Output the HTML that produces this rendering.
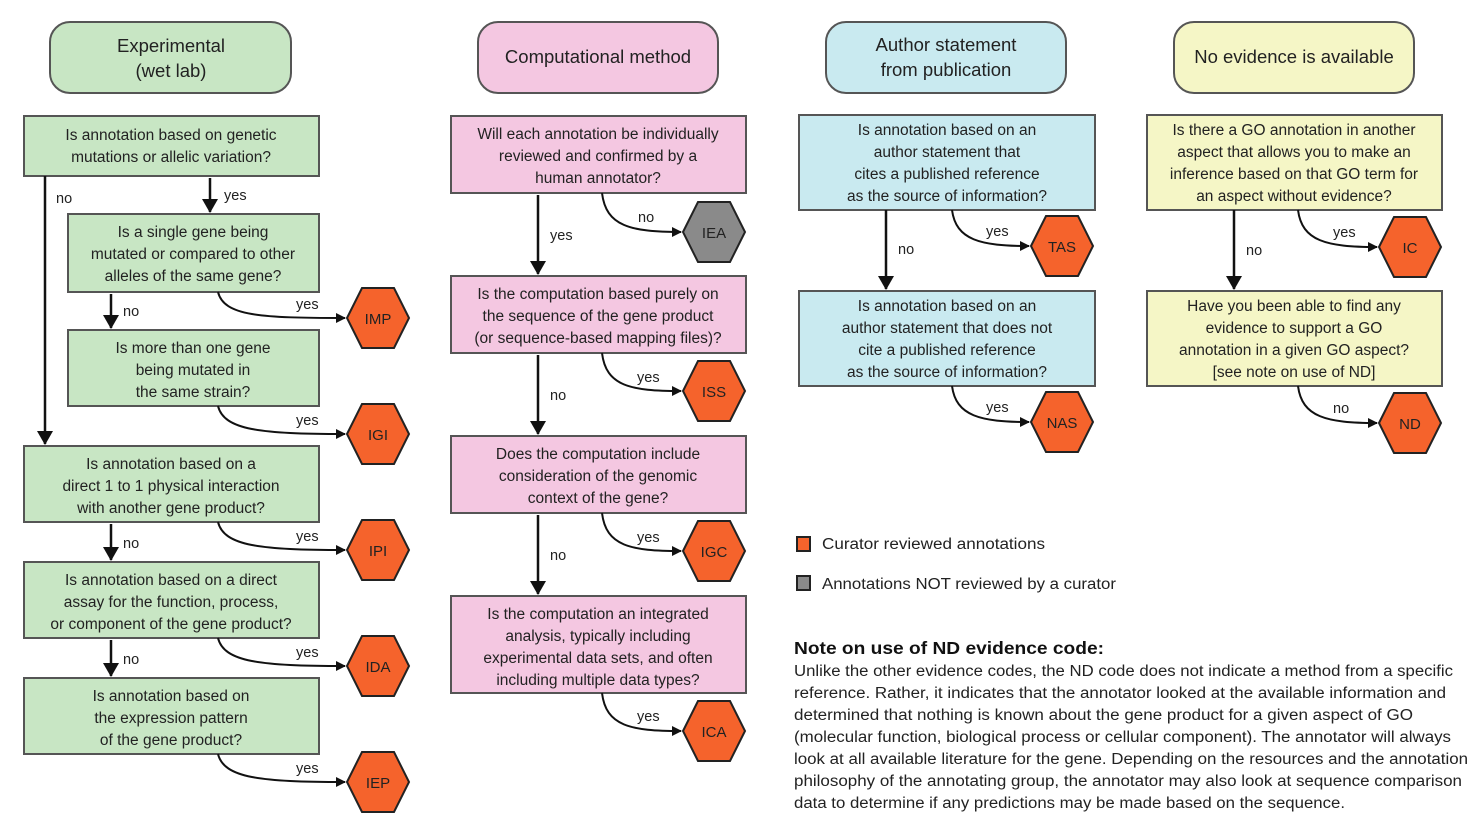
<!DOCTYPE html>
<html><head><meta charset="utf-8"><style>
html,body{margin:0;padding:0;background:#fff}
svg{display:block}
text{font-family:"Liberation Sans",sans-serif;fill:#222}
.q{font-size:15.5px;text-anchor:middle}
.h{font-size:18.5px;text-anchor:middle}
.l{font-size:14.5px}
.hx{font-size:15px;text-anchor:middle}
.n{font-size:15.5px}
</style></head><body>
<svg width="1473" height="815" viewBox="0 0 1473 815" xmlns="http://www.w3.org/2000/svg">
<defs>
<marker id="a" markerWidth="10" markerHeight="10" refX="9" refY="5" orient="auto" markerUnits="userSpaceOnUse"><path d="M0,0 L10,5 L0,10 z" fill="#111"/></marker>
<marker id="b" markerWidth="14" markerHeight="16" refX="13" refY="8" orient="auto" markerUnits="userSpaceOnUse"><path d="M0,0 L14,8 L0,16 z" fill="#111"/></marker>
</defs>
<g stroke="#555" stroke-width="2">
<rect x="50" y="22" width="241" height="71" rx="20" fill="#c8e6c4"/>
<rect x="478" y="22" width="240" height="71" rx="20" fill="#f4c7e1"/>
<rect x="826" y="22" width="240" height="71" rx="20" fill="#c9eaf0"/>
<rect x="1174" y="22" width="240" height="71" rx="20" fill="#f5f6c6"/>
<g fill="#c8e6c4">
<rect x="24" y="116" width="295" height="60"/>
<rect x="68" y="214" width="251" height="78"/>
<rect x="68" y="330" width="251" height="76"/>
<rect x="24" y="446" width="295" height="76"/>
<rect x="24" y="562" width="295" height="76"/>
<rect x="24" y="678" width="295" height="76"/>
</g>
<g fill="#f4c7e1">
<rect x="451" y="116" width="295" height="77"/>
<rect x="451" y="276" width="295" height="77"/>
<rect x="451" y="436" width="295" height="77"/>
<rect x="451" y="596" width="295" height="97"/>
</g>
<g fill="#c9eaf0">
<rect x="799" y="115" width="296" height="95"/>
<rect x="799" y="291" width="296" height="95"/>
</g>
<g fill="#f5f6c6">
<rect x="1147" y="115" width="295" height="95"/>
<rect x="1147" y="291" width="295" height="95"/>
</g>
</g>
<text class="h" x="171" y="52">Experimental</text><text class="h" x="171" y="77">(wet lab)</text>
<text class="h" x="598" y="63">Computational method</text>
<text class="h" x="946" y="51">Author statement</text><text class="h" x="946" y="76">from publication</text>
<text class="h" x="1294" y="63">No evidence is available</text>

<text class="q" x="171" y="140">Is annotation based on genetic</text><text class="q" x="171" y="162">mutations or allelic variation?</text>
<text class="q" x="193" y="237">Is a single gene being</text><text class="q" x="193" y="259">mutated or compared to other</text><text class="q" x="193" y="281">alleles of the same gene?</text>
<text class="q" x="193" y="353">Is more than one gene</text><text class="q" x="193" y="375">being mutated in</text><text class="q" x="193" y="397">the same strain?</text>
<text class="q" x="171" y="469">Is annotation based on a</text><text class="q" x="171" y="491">direct 1 to 1 physical interaction</text><text class="q" x="171" y="513">with another gene product?</text>
<text class="q" x="171" y="585">Is annotation based on a direct</text><text class="q" x="171" y="607">assay for the function, process,</text><text class="q" x="171" y="629">or component of the gene product?</text>
<text class="q" x="171" y="701">Is annotation based on</text><text class="q" x="171" y="723">the expression pattern</text><text class="q" x="171" y="745">of the gene product?</text>

<text class="q" x="598" y="139">Will each annotation be individually</text><text class="q" x="598" y="161">reviewed and confirmed by a</text><text class="q" x="598" y="183">human annotator?</text>
<text class="q" x="598" y="299">Is the computation based purely on</text><text class="q" x="598" y="321">the sequence of the gene product</text><text class="q" x="598" y="343">(or sequence-based mapping files)?</text>
<text class="q" x="598" y="459">Does the computation include</text><text class="q" x="598" y="481">consideration of the genomic</text><text class="q" x="598" y="503">context of the gene?</text>
<text class="q" x="598" y="619">Is the computation an integrated</text><text class="q" x="598" y="641">analysis, typically including</text><text class="q" x="598" y="663">experimental data sets, and often</text><text class="q" x="598" y="685">including multiple data types?</text>

<text class="q" x="947" y="135">Is annotation based on an</text><text class="q" x="947" y="157">author statement that</text><text class="q" x="947" y="179">cites a published reference</text><text class="q" x="947" y="201">as the source of information?</text>
<text class="q" x="947" y="311">Is annotation based on an</text><text class="q" x="947" y="333">author statement that does not</text><text class="q" x="947" y="355">cite a published reference</text><text class="q" x="947" y="377">as the source of information?</text>

<text class="q" x="1294" y="135">Is there a GO annotation in another</text><text class="q" x="1294" y="157">aspect that allows you to make an</text><text class="q" x="1294" y="179">inference based on that GO term for</text><text class="q" x="1294" y="201">an aspect without evidence?</text>
<text class="q" x="1294" y="311">Have you been able to find any</text><text class="q" x="1294" y="333">evidence to support a GO</text><text class="q" x="1294" y="355">annotation in a given GO aspect?</text><text class="q" x="1294" y="377">[see note on use of ND]</text>

<g stroke="#111" stroke-width="2.5" fill="none">
<path d="M45 176 V444" marker-end="url(#b)"/>
<path d="M210 178 V212" marker-end="url(#b)"/>
<path d="M111 294 V328" marker-end="url(#b)"/>
<path d="M111 524 V560" marker-end="url(#b)"/>
<path d="M111 640 V676" marker-end="url(#b)"/>
<path d="M538 195 V274" marker-end="url(#b)"/>
<path d="M538 355 V434" marker-end="url(#b)"/>
<path d="M538 515 V594" marker-end="url(#b)"/>
<path d="M886 210 V289" marker-end="url(#b)"/>
<path d="M1234 210 V289" marker-end="url(#b)"/>
</g>
<g stroke="#111" stroke-width="2" fill="none">
<path d="M218 292 C224 316,260 318,345 318" marker-end="url(#a)"/>
<path d="M218 406 C224 430,260 434,345 434" marker-end="url(#a)"/>
<path d="M218 522 C224 546,260 550,345 550" marker-end="url(#a)"/>
<path d="M218 638 C224 662,260 666,345 666" marker-end="url(#a)"/>
<path d="M218 754 C224 778,260 782,345 782" marker-end="url(#a)"/>
<path d="M602 193 C606 226,630 232,681 232" marker-end="url(#a)"/>
<path d="M602 353 C606 386,630 391,681 391" marker-end="url(#a)"/>
<path d="M602 513 C606 546,630 551,681 551" marker-end="url(#a)"/>
<path d="M602 693 C606 726,630 731,681 731" marker-end="url(#a)"/>
<path d="M952 210 C956 240,980 246,1029 246" marker-end="url(#a)"/>
<path d="M952 386 C956 416,980 422,1029 422" marker-end="url(#a)"/>
<path d="M1298 210 C1302 241,1326 247,1377 247" marker-end="url(#a)"/>
<path d="M1298 386 C1302 417,1326 423,1377 423" marker-end="url(#a)"/>
</g>
<text class="l" x="56" y="203">no</text>
<text class="l" x="224" y="200">yes</text>
<text class="l" x="123" y="316">no</text>
<text class="l" x="296" y="309">yes</text>
<text class="l" x="296" y="425">yes</text>
<text class="l" x="123" y="548">no</text>
<text class="l" x="296" y="541">yes</text>
<text class="l" x="123" y="664">no</text>
<text class="l" x="296" y="657">yes</text>
<text class="l" x="296" y="773">yes</text>
<text class="l" x="550" y="240">yes</text>
<text class="l" x="638" y="222">no</text>
<text class="l" x="550" y="400">no</text>
<text class="l" x="637" y="382">yes</text>
<text class="l" x="550" y="560">no</text>
<text class="l" x="637" y="542">yes</text>
<text class="l" x="637" y="721">yes</text>
<text class="l" x="898" y="254">no</text>
<text class="l" x="986" y="236">yes</text>
<text class="l" x="986" y="412">yes</text>
<text class="l" x="1246" y="255">no</text>
<text class="l" x="1333" y="237">yes</text>
<text class="l" x="1333" y="413">no</text>
<g stroke="#222" stroke-width="2" fill="#f5632c">
<polygon points="347,318 362,288 394,288 409,318 394,348 362,348"/>
<polygon points="347,434 362,404 394,404 409,434 394,464 362,464"/>
<polygon points="347,550 362,520 394,520 409,550 394,580 362,580"/>
<polygon points="347,666 362,636 394,636 409,666 394,696 362,696"/>
<polygon points="347,782 362,752 394,752 409,782 394,812 362,812"/>
<polygon points="683,232 698,202 730,202 745,232 730,262 698,262" fill="#8a8a8a"/>
<polygon points="683,391 698,361 730,361 745,391 730,421 698,421"/>
<polygon points="683,551 698,521 730,521 745,551 730,581 698,581"/>
<polygon points="683,731 698,701 730,701 745,731 730,761 698,761"/>
<polygon points="1031,246 1046,216 1078,216 1093,246 1078,276 1046,276"/>
<polygon points="1031,422 1046,392 1078,392 1093,422 1078,452 1046,452"/>
<polygon points="1379,247 1394,217 1426,217 1441,247 1426,277 1394,277"/>
<polygon points="1379,423 1394,393 1426,393 1441,423 1426,453 1394,453"/>
</g>
<text class="hx" x="378" y="324">IMP</text>
<text class="hx" x="378" y="440">IGI</text>
<text class="hx" x="378" y="556">IPI</text>
<text class="hx" x="378" y="672">IDA</text>
<text class="hx" x="378" y="788">IEP</text>
<text class="hx" x="714" y="238">IEA</text>
<text class="hx" x="714" y="397">ISS</text>
<text class="hx" x="714" y="557">IGC</text>
<text class="hx" x="714" y="737">ICA</text>
<text class="hx" x="1062" y="252">TAS</text>
<text class="hx" x="1062" y="428">NAS</text>
<text class="hx" x="1410" y="253">IC</text>
<text class="hx" x="1410" y="429">ND</text>
<rect x="797" y="537" width="13" height="14" fill="#f5632c" stroke="#222" stroke-width="2"/>
<rect x="797" y="576" width="13" height="14" fill="#8a8a8a" stroke="#222" stroke-width="2"/>
<text class="n" x="822" y="549" textLength="223" lengthAdjust="spacingAndGlyphs">Curator reviewed annotations</text>
<text class="n" x="822" y="589" textLength="294" lengthAdjust="spacingAndGlyphs">Annotations NOT reviewed by a curator</text>
<text x="794" y="654" style="font-size:17.5px;font-weight:bold;fill:#111" textLength="310" lengthAdjust="spacingAndGlyphs">Note on use of ND evidence code:</text>
<text class="n" x="794" y="676" textLength="659" lengthAdjust="spacingAndGlyphs">Unlike the other evidence codes, the ND code does not indicate a method from a specific</text>
<text class="n" x="794" y="698" textLength="652" lengthAdjust="spacingAndGlyphs">reference. Rather, it indicates that the annotator looked at the available information and</text>
<text class="n" x="794" y="720" textLength="619" lengthAdjust="spacingAndGlyphs">determined that nothing is known about the gene product for a given aspect of GO</text>
<text class="n" x="794" y="742" textLength="657" lengthAdjust="spacingAndGlyphs">(molecular function, biological process or cellular component). The annotator will always</text>
<text class="n" x="794" y="764" textLength="674" lengthAdjust="spacingAndGlyphs">look at all available literature for the gene. Depending on the resources and the annotation</text>
<text class="n" x="794" y="786" textLength="668" lengthAdjust="spacingAndGlyphs">philosophy of the annotating group, the annotator may also look at sequence comparison</text>
<text class="n" x="794" y="808" textLength="551" lengthAdjust="spacingAndGlyphs">data to determine if any predictions may be made based on the sequence.</text>
</svg>
</body></html>
